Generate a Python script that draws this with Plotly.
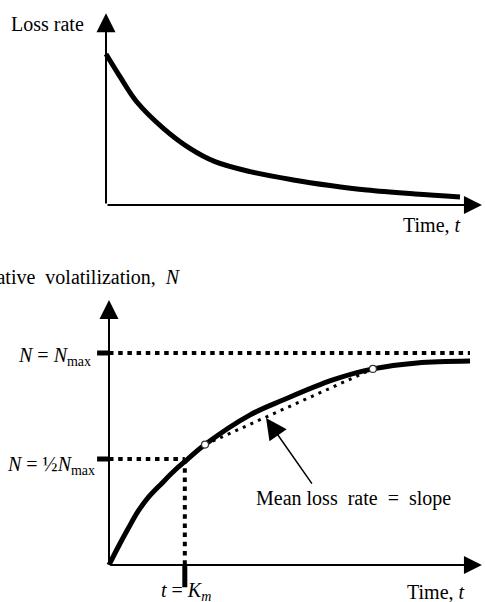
import plotly.graph_objects as go

# --- top panel: loss rate falling with time ---
rate_t = [0.0, 0.395, 0.867, 1.62, 2.37, 3.08, 4.07, 5.29, 6.33, 7.37, 8.73, 10.0]
rate_v = [1.0, 0.85, 0.684, 0.508, 0.375, 0.287, 0.221, 0.166, 0.129, 0.099, 0.073, 0.053]

# --- bottom panel: cumulative volatilization N(t) ---
cum_t = [0.0, 0.258, 0.535, 0.812, 1.089, 1.46, 1.83, 2.15, 2.66, 3.91, 4.82, 6.20, 7.31, 8.53, 10.0]
cum_n = [0.0, 0.086, 0.173, 0.255, 0.319, 0.385, 0.448, 0.495, 0.568, 0.708, 0.778, 0.873, 0.925, 0.953, 0.962]

n_max = 1.0
n_half = 0.5
t_km = 2.1
t_end = 10.0

# two points on the curve joined by the "mean loss rate" chord
chord_t = [2.66, 7.31]
chord_n = [0.568, 0.925]

FONT = "Liberation Serif, Times New Roman, serif"
W, H = 485, 602
BLACK = "#000"

# pixel anchors of each panel: origin and pixels per unit
TOP = dict(x0=106, xs=35.4, y0=205, ys=151)
BOT = dict(x0=109, xs=36.1, y0=565, ys=212)


def axis_ranges(p):
    xr = [-p["x0"] / p["xs"], (W - p["x0"]) / p["xs"]]
    yr = [(p["y0"] - H) / p["ys"], p["y0"] / p["ys"]]
    return xr, yr


fig = go.Figure()

# top curve
fig.add_trace(go.Scatter(
    x=rate_t, y=rate_v, mode="lines",
    line=dict(color=BLACK, width=5, shape="spline", smoothing=1.0),
    xaxis="x", yaxis="y",
))

# bottom: guide lines for N_max and N_max/2
dash_sq = "4.5px,4.7px"
tick = 0.33
fig.add_trace(go.Scatter(
    x=[0, t_end], y=[n_max, n_max], mode="lines",
    line=dict(color=BLACK, width=4, dash=dash_sq), xaxis="x2", yaxis="y2",
))
fig.add_trace(go.Scatter(
    x=[0, t_km], y=[n_half, n_half], mode="lines",
    line=dict(color=BLACK, width=4, dash=dash_sq), xaxis="x2", yaxis="y2",
))
fig.add_trace(go.Scatter(
    x=[t_km, t_km], y=[n_half, 0], mode="lines",
    line=dict(color=BLACK, width=4, dash=dash_sq), xaxis="x2", yaxis="y2",
))
# solid tick stubs outside the axes
for xs, ys in [([-tick, 0], [n_max, n_max]),
               ([-tick, 0], [n_half, n_half]),
               ([t_km, t_km], [0, -0.105])]:
    fig.add_trace(go.Scatter(
        x=xs, y=ys, mode="lines",
        line=dict(color=BLACK, width=5), xaxis="x2", yaxis="y2",
    ))

# chord = mean loss rate
fig.add_trace(go.Scatter(
    x=chord_t, y=chord_n, mode="lines",
    line=dict(color=BLACK, width=3, dash="3px,5.3px"), xaxis="x2", yaxis="y2",
))

# cumulative curve
fig.add_trace(go.Scatter(
    x=cum_t, y=cum_n, mode="lines",
    line=dict(color=BLACK, width=5, shape="spline", smoothing=1.0),
    xaxis="x2", yaxis="y2",
))
fig.add_trace(go.Scatter(
    x=chord_t, y=chord_n, mode="markers",
    marker=dict(symbol="circle", size=7, color="white",
                line=dict(color="#333", width=1.2)),
    xaxis="x2", yaxis="y2",
))

ann = []


def axis_arrow(ref, x, y, size=1.9):
    xr, yr = ref
    ann.append(dict(
        x=x, y=y, ax=0, ay=0, xref=xr, yref=yr, axref=xr, ayref=yr,
        text="", showarrow=True, arrowhead=2, arrowsize=size,
        arrowwidth=2, arrowcolor=BLACK,
    ))


axis_arrow(("x", "y"), 0, 1.27)
axis_arrow(("x", "y"), 10.62, 0, 1.8)
axis_arrow(("x2", "y2"), 0, 1.25)
axis_arrow(("x2", "y2"), 10.33, 0, 1.8)

# arrow pointing at the chord
ann.append(dict(
    x=4.35, y=0.693, ax=5.65, ay=0.377,
    xref="x2", yref="y2", axref="x2", ayref="y2",
    text="", showarrow=True, arrowhead=2, arrowsize=2.8,
    arrowwidth=1.5, arrowcolor=BLACK,
))


def label(text, x, y, xref, yref, xanchor="center"):
    ann.append(dict(
        x=x, y=y, xref=xref, yref=yref, text=text, showarrow=False,
        xanchor=xanchor, yanchor="middle",
        font=dict(family=FONT, size=20, color=BLACK),
    ))


label("Loss rate", -0.565, 1.2, "x", "y", "right")
label("Time, <i>t</i>", 10.08, -0.132, "x", "y", "right")
label("Cumulative\u00a0 volatilization,\u00a0 <i>N</i>", 2.05, 1.358, "x2", "y2", "right")
label("<i>N</i> = <i>N</i><sub>max</sub>", -0.44, 0.985, "x2", "y2", "right")
label("<i>N</i> = \u00bd<i>N</i><sub>max</sub>", -0.33, 0.47, "x2", "y2", "right")
label("Mean loss\u00a0 rate\u00a0 =\u00a0 slope", 6.76, 0.316, "x2", "y2")
label("<i>t</i> = <i>K<sub>m</sub></i>", 2.13, -0.125, "x2", "y2")
label("Time, <i>t</i>", 9.92, -0.125, "x2", "y2", "right")

tx, ty = axis_ranges(TOP)
bx, by = axis_ranges(BOT)
hidden = dict(visible=False, fixedrange=True, domain=[0, 1])

fig.update_layout(
    width=W, height=H,
    margin=dict(l=0, r=0, t=0, b=0),
    paper_bgcolor="white",
    plot_bgcolor="rgba(0,0,0,0)",
    showlegend=False,
    xaxis=dict(hidden, range=tx, anchor="y"),
    yaxis=dict(hidden, range=ty, anchor="x"),
    xaxis2=dict(hidden, range=bx, anchor="y2"),
    yaxis2=dict(hidden, range=by, anchor="x2"),
    annotations=ann,
)

# drop the browser's default 8px body margin so the figure sits at 0,0
fig.write_html("out.html", config={"displayModeBar": False},
               post_script="document.body.style.margin='0px';")
